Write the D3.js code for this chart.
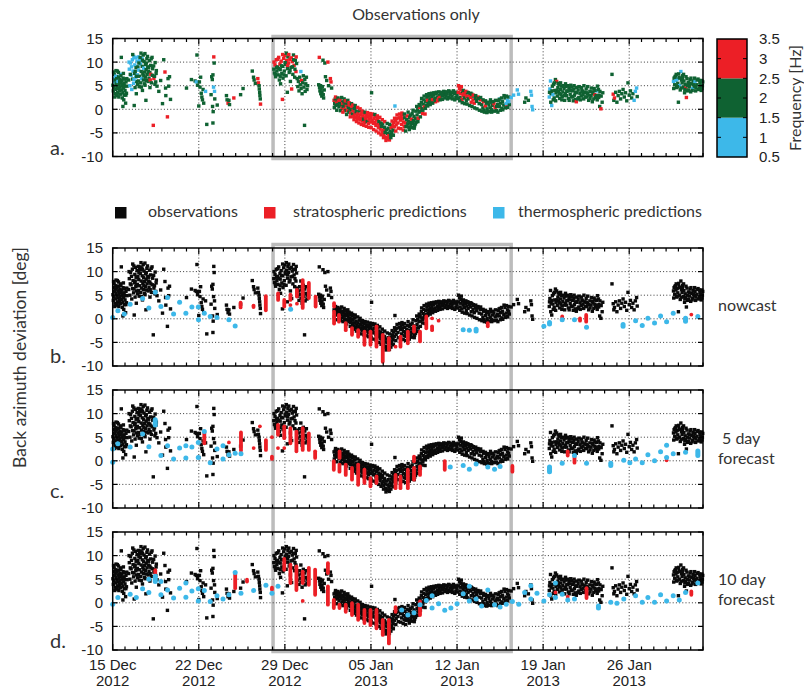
<!DOCTYPE html>
<html>
<head>
<meta charset="utf-8">
<script src="https://cdn.jsdelivr.net/npm/d3@7"></script>
<style>
  body { margin: 0; background: #fff; }
  svg { display: block; }
  .num { font-family: "Liberation Sans", Arial, sans-serif; font-size: 15px; fill: #222; }
  .lab { font-family: Lato, "Open Sans", sans-serif; font-size: 16px; fill: #333; }
</style>
</head>
<body>
<svg id="chart" width="804" height="689"></svg>
<script>
// ---- axes ---------------------------------------------------------------
const dateRange = ["2012-12-15", "2013-02-01"];
const dateTicks = ["2012-12-15", "2012-12-22", "2012-12-29", "2013-01-05", "2013-01-12", "2013-01-19", "2013-01-26"];
const degTicks = [-10, -5, 0, 5, 10, 15];
const gridDeg = [-5, 0, 5, 10];
const freqTicks = [0.5, 1, 1.5, 2, 2.5, 3, 3.5];
const freqBreaks = [1.5, 2.5];
const freqColors = ["#3db8e9", "#0f6232", "#ec1f26"];
const highlightDays = [13.04, 32.4];           // days after 15 Dec 2012

// ---- observations: [day after 15 Dec, back-azimuth deviation (deg), frequency (Hz)]
const observations = [
  [0.02,5.1,2],[0.05,3.9,2],[0.08,6.6,1],[0.1,4.6,2],[0.12,7.4,2],[0.15,5.8,1],[0.18,3.3,2],[0.2,6.2,2],[0.22,4.2,2],[0.25,7.0,1],
  [0.28,5.4,2],[0.3,2.9,2],[0.33,6.5,2],[0.35,4.8,2],[0.38,8.1,2],[0.4,3.6,2],[0.43,5.9,1],[0.45,4.4,2],[0.48,6.9,2],[0.5,2.6,2],
  [0.52,5.2,2],[0.55,3.9,2],[0.58,6.3,2],[0.6,4.7,2],[0.62,7.4,1],[0.65,3.2,2],[0.68,5.6,2],[0.7,11.0,2],[0.72,4.1,2],[0.75,6.1,2],
  [0.78,2.4,2],[0.8,5.0,2],[0.83,0.6,2],[0.83,3.5,2],[0.85,6.6,2],[0.88,4.5,2],[0.9,2.0,2],[0.93,5.5,2],[0.95,3.0,2],[0.98,6.4,2],
  [1.0,4.0,2],[1.05,1.3,2],[1.08,5.8,2],[1.12,3.4,2],[1.15,6.5,2],
  [0.07,7.9,2],[0.17,2.6,2],[0.27,8.2,2],[0.37,3.0,2],[0.47,7.8,2],[0.57,5.8,2],[0.67,7.1,2],[0.77,5.3,2],[0.87,7.6,2],[0.97,4.9,2],[1.07,3.0,2],[1.17,4.9,2],
  [1.3,6.2,2],[1.35,8.5,1],[1.4,5.0,1],[1.45,9.8,1],[1.5,7.2,1],[1.55,4.2,1],[1.6,10.5,1],[1.62,6.4,2],[1.65,8.1,1],[1.7,5.5,1],
  [1.72,11.2,1],[1.75,0.8,2],[1.78,7.6,2],[1.8,9.4,1],[1.82,4.6,2],[1.85,10.9,1],[1.88,6.8,1],[1.9,8.8,2],[1.92,3.3,2],[1.95,5.9,2],
  [1.98,10.2,1],[2.0,7.3,1],[2.05,9.0,2],[2.08,11.1,1],[2.1,6.0,2],[2.12,8.3,1],[2.15,4.8,2],[2.18,10.4,1],[2.2,7.0,2],[2.25,9.6,1],
  [2.28,5.6,2],[2.3,11.9,2],[2.32,8.0,2],[2.35,6.5,1],[2.38,10.8,1],[2.4,9.1,2],[2.42,4.0,2],[2.45,7.5,2],[2.48,11.5,2],[2.5,6.2,2],
  [2.52,8.7,1],[2.55,10.1,2],[2.58,5.4,2],[2.6,7.9,2],[2.62,11.8,2],[2.65,6.8,2],[2.68,9.5,2],[2.7,1.9,2],[2.72,8.4,2],[2.75,6.1,2],
  [2.78,10.7,2],[2.8,7.4,2],[2.85,9.0,2],[2.88,5.9,2],[2.9,8.0,2],[2.95,6.6,2],[3.0,10.3,2],[3.02,7.8,2],[3.05,6.2,3],[3.08,9.3,2],
  [3.1,7.4,3],[3.15,5.6,2],[3.2,11.0,2],[3.25,8.6,2],[3.3,-3.4,3],[3.35,6.5,3],[3.4,7.0,2],[3.45,9.9,2],[3.5,5.8,2],[3.55,8.2,2],[3.6,4.9,2],
  [1.33,10.0,1],[1.43,7.4,2],[1.53,9.0,1],[1.63,11.6,2],[1.73,6.3,1],[1.83,8.0,2],[1.93,7.0,2],[2.03,5.3,2],[2.13,9.8,2],[2.23,11.0,2],
  [2.33,4.7,2],[2.43,10.4,2],[2.53,7.1,2],[2.63,5.1,2],[2.73,9.8,2],[2.83,11.2,2],[2.93,8.8,2],[3.03,4.6,2],[3.13,10.7,2],[3.23,7.2,2],
  [3.33,9.2,2],[3.43,5.3,2],[3.53,7.6,2],
  [3.75,3.8,2],[3.9,6.1,2],[4.05,1.2,2],[4.15,10.5,2],[4.25,7.9,3],[4.3,4.5,2],[4.32,2.9,2],[4.45,-1.6,3],[4.5,6.5,2],[4.55,4.9,2],[4.62,6.9,2],[4.7,2.1,2],
  [6.0,4.5,2],[6.4,6.3,2],[6.7,6.0,2],[6.8,5.8,1],[6.85,11.5,2],[6.9,5.1,2],
  [7.0,0.7,2],[7.05,5.8,2],[7.1,4.7,2],[7.15,6.8,2],[7.2,3.4,2],[7.25,2.6,2],[7.3,2.0,2],[7.35,4.2,2],[7.4,1.3,2],[7.55,3.8,1],[7.65,-3.2,2],
  [8.0,3.1,2],[8.05,6.9,2],[8.1,6.3,2],[8.12,0.6,2],[8.15,7.3,2],[8.17,-0.5,2],[8.2,4.7,1],[8.22,11.1,3],[8.25,9.8,2],[8.28,3.8,1],[8.3,2.2,2],[8.15,-2.9,2],[8.5,0.9,2],
  [9.25,2.9,2],[9.3,2.0,2],[9.38,1.3,3],[9.45,1.9,2],[9.5,1.0,2],[9.85,2.4,3],[10.4,3.1,2],[10.6,4.4,2],
  [11.35,8.1,2],[11.45,6.8,2],[11.5,6.2,2],[11.6,5.5,2],[11.8,6.5,3],[11.85,5.6,3],[11.9,5.0,2],[11.92,4.3,2],[11.95,3.6,2],[11.97,2.9,2],[12.0,2.2,2],[12.02,1.1,3],
  [13.1,8.5,2],[13.15,7.7,2],[13.2,9.4,3],[13.25,6.9,2],[13.3,10.5,3],[13.35,8.1,2],[13.4,9.0,2],[13.45,7.3,2],[13.5,11.0,3],[13.55,6.2,2],
  [13.6,9.6,3],[13.62,8.4,2],[13.65,5.4,2],[13.7,10.2,3],[13.75,7.6,2],[13.8,2.1,3],[13.82,9.1,2],[13.85,6.6,2],[13.9,10.8,3],[13.95,8.1,2],
  [14.0,11.4,3],[14.05,9.5,2],[14.1,7.1,2],[14.15,10.3,3],[14.2,3.6,2],[14.22,8.6,2],[14.25,11.1,2],[14.3,9.8,3],[14.35,7.8,2],[14.4,10.6,3],
  [14.45,5.9,2],[14.5,8.9,2],[14.55,4.3,3],[14.6,10.1,3],[14.65,7.4,2],[14.7,11.5,2],[14.75,9.3,3],[14.8,6.8,2],[14.85,10.4,2],[14.9,8.0,3],[14.95,9.7,2],
  [13.12,10.0,3],[13.22,7.4,2],[13.32,8.8,2],[13.42,10.6,3],[13.52,8.6,2],[13.62,7.0,2],[13.72,9.2,2],[13.82,11.6,3],[13.92,7.3,2],[14.02,9.9,2],
  [14.12,11.9,2],[14.22,9.3,3],[14.32,11.6,3],[14.42,8.2,2],[14.52,10.9,3],[14.62,9.0,2],[14.72,10.5,2],[14.82,8.5,2],[14.92,11.1,3],
  [15.0,6.5,2],[15.05,4.8,2],[15.1,5.9,2],[15.15,3.9,2],[15.2,6.8,2],[15.25,5.2,2],[15.3,8.0,1],[15.32,4.4,2],[15.35,6.1,3],[15.4,3.3,2],
  [15.45,5.6,2],[15.5,7.1,2],[15.55,4.7,2],[15.6,-3.4,2],[15.62,6.3,2],[15.65,3.8,2],[15.7,5.4,2],[15.75,6.8,2],[15.8,4.2,2],[15.85,5.0,2],
  [16.75,5.2,2],[16.8,11.0,3],[16.82,4.6,2],[16.85,3.9,2],[16.9,5.0,2],[16.92,3.3,2],[16.95,4.4,2],[17.0,2.8,2],[17.02,3.7,2],[17.05,4.8,2],
  [17.1,10.4,2],[17.12,3.1,2],[17.15,2.4,2],[17.2,4.1,2],[17.25,9.8,2],[17.3,6.9,2],[17.4,6.1,2],[17.5,10.0,3],[17.55,5.0,2],[17.7,6.5,3],[17.75,5.8,3],[17.8,4.5,2],
  [18.0,1.9,3],[18.05,1.2,2],[18.1,2.2,2],[18.15,0.8,2],[18.2,1.6,3],[18.25,2.0,2],[18.3,1.0,2],[18.35,1.8,3],[18.4,0.5,2],[18.45,1.4,2],
  [18.5,2.1,3],[18.55,0.9,2],[18.6,1.5,2],[18.65,0.2,3],[18.7,1.2,3],[18.75,0.6,2],[18.8,1.6,2],[18.85,0.0,3],[18.9,1.0,2],[18.95,-0.3,2],
  [19.0,0.7,3],[19.05,1.3,2],[19.1,-0.2,3],[19.15,0.4,2],[19.2,-0.6,2],[19.25,0.9,3],[19.3,0.1,2],[19.35,-0.8,3],[19.4,-0.1,2],[19.45,0.6,3],
  [19.5,-1.0,2],[19.55,-0.3,3],[19.6,-1.5,3],[19.65,0.2,2],[19.7,-0.9,3],[19.75,-1.8,3],[19.8,-0.5,2],[19.85,-1.3,3],[19.9,-2.0,3],[19.95,-0.9,3],
  [20.0,-1.6,3],[20.05,-0.3,2],[20.1,-2.2,3],[20.15,-1.2,3],[20.2,-1.9,3],[20.25,-0.8,3],[20.3,-2.5,3],[20.35,-1.5,3],[20.4,-2.1,2],[20.45,-1.0,3],
  [20.5,-2.8,3],[20.55,-1.8,3],[20.6,-2.3,3],[20.65,-1.3,3],[20.7,-2.6,2],[20.75,-1.6,3],[20.8,-3.0,3],[20.85,-2.1,3],[20.9,-1.4,3],[20.95,-2.7,3],
  [18.02,0.4,2],[18.12,2.6,3],[18.22,-0.2,2],[18.32,2.4,2],[18.42,1.9,3],[18.52,-0.3,2],[18.62,2.5,2],[18.72,-0.6,3],[18.82,2.2,2],[18.92,1.8,3],
  [19.02,-1.1,2],[19.12,1.9,2],[19.22,1.4,3],[19.32,-1.6,3],[19.42,1.2,2],[19.52,0.9,3],[19.62,-2.2,3],[19.72,0.8,2],[19.82,-2.6,3],[19.92,0.4,3],
  [20.02,-2.9,3],[20.12,0.1,3],[20.22,-3.2,3],[20.32,-0.4,3],[20.42,-3.4,3],[20.52,-0.6,2],[20.62,-3.6,3],[20.72,-0.7,3],[20.82,-3.8,3],[20.92,-0.9,3],
  [21.0,-1.8,3],[21.05,3.5,2],[21.1,-2.4,3],[21.15,-1.2,3],[21.2,-3.0,3],[21.25,-2.0,3],[21.3,-2.8,3],[21.35,-1.5,3],[21.4,-3.4,3],[21.45,-2.3,3],
  [21.5,-3.1,3],[21.55,-1.9,3],[21.6,-3.8,3],[21.65,-2.6,2],[21.7,-3.3,3],[21.75,-4.2,3],[21.8,-2.9,2],[21.85,-3.6,2],[21.9,-4.8,3],[21.95,-3.1,2],
  [22.0,-4.4,3],[22.05,-5.3,3],[22.1,-3.8,2],[22.15,-4.9,2],[22.2,-5.9,3],[22.25,-4.3,2],[22.3,-6.3,3],[22.35,-5.1,2],[22.4,-4.0,2],[22.45,-5.6,3],
  [22.5,-6.5,3],[22.55,-4.6,2],[22.6,-5.3,2],[22.65,-3.9,3],[22.7,-4.9,2],[22.75,-3.4,3],[22.8,-4.4,2],[22.85,-2.8,3],[22.9,-3.7,3],[22.95,0.7,1],
  [23.0,-2.5,3],[23.05,-3.3,3],[23.1,-2.0,3],[23.2,-2.9,3],[23.3,-1.8,3],
  [21.02,-3.9,3],[21.12,-1.0,3],[21.22,-4.3,3],[21.32,-1.1,2],[21.42,-4.6,3],[21.52,-1.4,3],[21.62,-5.0,3],[21.72,-1.7,3],[21.82,-5.4,3],[21.92,-2.2,3],
  [22.02,-6.0,3],[22.12,-2.6,3],[22.22,-6.6,3],[22.32,-3.0,2],[22.42,-6.2,3],[22.52,-3.2,2],[22.62,-6.0,2],[22.72,-2.5,3],[22.82,-5.5,2],[22.92,-1.9,3],
  [23.02,-4.6,3],[23.12,-1.2,3],[23.22,-4.0,3],[23.32,-1.0,3],
  [23.4,-2.3,3],[23.45,-1.5,3],[23.5,-3.2,3],[23.55,-2.0,3],[23.6,-1.2,3],[23.65,-2.7,3],[23.7,-3.6,3],[23.75,-1.8,2],[23.8,-2.9,3],[23.85,-3.7,2],
  [23.9,-2.2,2],[23.95,-1.4,3],[24.0,-3.1,2],[24.05,-2.5,2],[24.1,-3.8,2],[24.15,-1.7,2],[24.2,-2.8,2],[24.25,-3.4,2],[24.3,-2.1,3],[24.35,-0.9,2],
  [24.4,-3.0,2],[24.45,-2.4,2],[24.5,-1.5,2],[24.55,-3.5,2],[24.6,-2.0,2],[24.65,-0.4,2],[24.7,-2.7,2],[24.75,-1.2,2],[24.8,-0.1,2],[24.85,-1.9,3],[24.9,-0.6,2],[24.95,0.4,3],
  [23.42,-4.1,3],[23.52,-0.8,3],[23.62,-4.4,3],[23.72,-1.0,2],[23.82,-4.6,2],[23.92,-3.6,2],[24.02,-0.6,2],[24.12,-4.3,2],[24.22,-1.2,2],[24.32,-3.9,2],
  [24.42,-0.2,2],[24.52,-4.0,2],[24.62,-3.1,2],[24.72,0.6,2],[24.82,-2.6,2],[24.92,1.0,2],
  [25.0,0.8,2],[25.05,-0.5,2],[25.1,1.5,2],[25.15,0.2,2],[25.2,-0.9,3],[25.25,1.1,2],[25.3,2.0,2],[25.35,0.5,3],[25.4,-1.0,3],[25.45,1.7,2],
  [25.5,0.9,2],[25.55,2.5,2],[25.6,1.9,3],[25.65,1.2,2],[25.7,2.8,2],[25.75,1.5,2],[25.8,2.2,2],[25.85,3.1,2],[25.9,1.8,2],[25.95,2.6,2],
  [26.0,2.0,3],[26.1,3.0,2],[26.2,2.3,2],[26.25,1.6,3],[26.3,3.3,2],[26.4,2.6,2],[26.5,2.3,3],[26.55,3.0,2],[26.6,2.5,3],[26.7,3.4,2],
  [26.8,2.8,2],[26.9,3.1,2],[27.0,3.6,2],[27.1,2.9,2],[27.2,3.3,2],[27.3,2.6,2],[27.35,3.8,2],[27.45,3.1,2],[27.55,3.5,2],[27.6,2.8,2],[27.7,3.9,2],[27.8,3.3,2],[27.9,2.5,2],
  [25.02,-1.6,2],[25.12,2.3,2],[25.22,-0.2,2],[25.32,2.8,2],[25.42,0.2,2],[25.52,3.1,2],[25.62,0.7,2],[25.72,3.3,2],[25.82,1.0,2],[25.92,3.4,2],
  [26.02,1.3,2],[26.12,3.5,2],[26.22,1.9,2],[26.32,3.6,2],[26.42,1.8,3],[26.52,3.7,2],[26.62,2.0,2],[26.72,3.6,2],[26.82,2.1,2],[26.92,3.8,2],
  [27.02,2.4,2],[27.12,3.7,2],[27.22,2.2,2],[27.32,3.9,2],[27.42,2.4,2],[27.52,3.6,2],[27.62,2.2,2],[27.72,3.8,2],[27.82,2.0,2],[27.92,3.6,2],
  [28.0,3.0,2],[28.1,3.6,3],[28.2,4.4,3],[28.25,2.5,2],[28.3,3.3,3],[28.35,4.8,3],[28.4,2.1,3],[28.45,3.8,2],[28.5,2.9,3],[28.55,3.5,3],
  [28.6,2.4,2],[28.7,3.2,3],[28.75,1.8,2],[28.8,2.7,3],[28.85,3.6,2],[28.9,2.2,2],[29.0,3.0,3],[29.1,2.5,3],[29.15,1.5,3],[29.2,3.2,2],
  [29.3,2.0,3],[29.35,2.8,2],[29.4,1.3,3],[29.5,2.3,2],[29.6,1.7,2],[29.7,2.6,3],[29.8,1.2,2],[29.9,2.0,3],
  [28.02,2.3,2],[28.12,5.0,3],[28.22,1.8,2],[28.32,4.1,3],[28.42,1.4,2],[28.52,4.0,2],[28.62,1.2,2],[28.72,3.8,3],[28.82,1.1,2],[28.92,3.5,2],
  [29.02,0.8,2],[29.12,3.4,2],[29.22,0.6,2],[29.32,3.0,3],[29.42,0.3,2],[29.52,2.9,2],[29.62,0.1,2],[29.72,2.3,2],[29.82,-0.2,2],[29.92,2.5,2],
  [30.0,1.0,2],[30.1,0.3,2],[30.15,1.6,3],[30.2,-0.2,2],[30.3,0.7,3],[30.4,1.3,2],[30.45,0.1,2],[30.5,-0.5,2],[30.6,0.9,2],[30.7,0.3,2],
  [30.75,1.5,2],[30.8,-0.1,2],[30.9,0.8,2],[31.0,1.2,3],[31.1,0.4,3],[31.2,-0.3,2],[31.3,1.0,2],[31.35,1.8,2],[31.45,0.6,2],[31.5,2.2,1],
  [31.55,1.3,2],[31.65,0.2,2],[31.7,1.6,2],[31.8,0.9,2],[31.9,2.4,2],[32.0,1.2,1],[32.05,0.5,3],[32.1,1.9,1],[32.2,2.6,2],[32.25,1.0,2],
  [30.02,-0.4,2],[30.12,2.0,2],[30.22,-0.6,2],[30.32,1.8,2],[30.42,-0.7,2],[30.52,1.5,2],[30.62,-0.5,2],[30.72,2.0,2],[30.82,-0.6,2],[30.92,1.6,2],
  [31.02,-0.4,2],[31.12,1.9,2],[31.22,0.6,2],[31.32,-0.6,2],[31.42,2.1,2],[31.52,-0.2,2],[31.62,2.4,2],[31.72,-0.1,2],[31.82,2.9,2],[31.92,0.3,2],
  [32.02,2.8,2],[32.12,0.4,2],[32.2,1.6,1],
  [32.4,2.5,1],[32.6,3.0,1],[32.9,4.1,1],[33.0,3.2,1],[33.5,1.5,2],[33.6,2.4,2],[33.8,1.9,2],[34.0,3.8,1],[34.05,3.0,1],[34.1,0.6,1],[34.15,-0.1,1],
  [35.5,2.6,1],[35.55,4.3,1],[35.6,6.0,1],[35.65,3.3,2],[35.7,0.8,1],[35.75,4.9,2],[35.8,3.1,1],[35.85,5.3,2],[35.9,2.4,2],[35.95,4.0,2],
  [36.0,6.3,2],[36.05,3.5,2],[36.1,5.9,3],[36.15,2.8,2],[36.2,4.6,2],[36.25,3.8,2],[36.3,5.2,2],[36.35,2.3,2],[36.4,4.2,2],[36.45,3.1,2],
  [36.5,4.9,2],[36.55,2.7,2],[36.6,3.7,2],[36.7,4.4,2],[36.75,1.9,2],[36.8,3.3,2],[36.85,4.8,2],[36.9,2.9,2],[37.0,3.9,2],[37.05,2.3,2],
  [37.1,4.5,2],[37.2,3.2,2],[37.25,5.1,2],[37.3,2.6,2],[37.4,3.9,2],[37.45,1.8,2],[37.5,4.3,2],[37.55,3.0,2],[37.6,2.1,2],[37.7,1.6,3],
  [37.75,3.5,2],[37.85,4.1,2],[37.9,2.5,2],[38.0,3.4,2],[38.1,2.8,2],[38.15,4.0,2],[38.25,3.1,2],[38.3,2.2,2],[38.4,3.6,2],[38.5,4.3,2],
  [38.55,2.6,2],[38.6,3.3,2],[38.7,1.9,2],[38.8,3.8,2],[38.9,2.9,2],[39.0,1.6,2],[39.05,3.4,2],[39.15,4.4,2],[39.2,3.1,3],[39.25,2.5,2],
  [39.35,3.9,1],[39.4,2.0,2],[39.5,4.2,2],[39.55,3.0,2],[39.6,0.6,2],[39.7,0.1,3],[39.8,1.5,2],[39.85,3.5,2],
  [35.52,3.6,2],[35.62,1.5,2],[35.72,3.9,2],[35.82,2.0,2],[35.92,5.6,2],[36.02,1.8,2],[36.12,4.0,2],[36.22,5.5,2],[36.32,3.4,2],[36.42,5.6,2],
  [36.52,2.0,2],[36.62,5.0,2],[36.72,2.9,2],[36.82,5.4,2],[36.92,3.8,2],[37.02,5.0,2],[37.12,1.9,2],[37.22,4.0,2],[37.32,4.7,2],[37.42,2.7,2],
  [37.52,5.0,2],[37.62,3.6,2],[37.72,4.6,2],[37.82,2.2,2],[37.92,4.8,2],[38.02,2.0,2],[38.12,4.6,2],[38.22,3.8,2],[38.32,5.0,2],[38.42,2.6,2],
  [38.52,3.5,2],[38.62,4.8,2],[38.72,3.0,2],[38.82,2.3,2],[38.92,4.5,2],[39.02,3.7,2],[39.12,2.2,2],[39.22,4.0,2],[39.32,2.9,2],[39.42,4.9,2],
  [39.52,2.5,2],[39.62,3.8,2],[39.72,2.8,2],
  [40.6,7.4,2],[40.7,3.2,3],[40.75,1.9,2],[40.8,2.4,3],[40.9,3.6,2],[41.0,1.5,2],[41.1,2.9,2],[41.2,3.8,2],[41.3,2.2,2],[41.4,3.3,2],
  [41.5,4.2,2],[41.6,2.6,2],[41.7,3.5,2],[41.8,1.8,2],[41.9,5.6,2],[42.0,3.0,2],[42.1,3.9,2],[42.2,2.4,2],[42.3,3.3,2],[42.4,1.9,1],[42.5,3.8,1],[42.6,4.5,1],[42.65,2.7,2],
  [45.6,5.9,1],[45.65,6.6,2],[45.7,5.2,2],[45.75,7.0,2],[45.8,6.1,1],[45.85,4.6,2],[45.9,6.4,1],[45.95,5.5,2],[46.0,1.5,2],[46.05,6.8,2],
  [46.1,5.0,1],[46.15,4.1,2],[46.2,8.0,1],[46.25,6.2,2],[46.3,5.6,2],[46.35,7.1,2],[46.4,4.7,2],[46.45,6.0,2],[46.5,3.5,2],[46.55,5.3,2],
  [46.6,4.5,3],[46.65,2.5,3],[46.7,6.5,2],[46.75,3.9,2],[46.8,5.7,2],[46.9,4.8,2],[46.95,6.3,2],[47.0,3.7,2],[47.1,5.4,2],[47.15,4.4,1],
  [47.2,6.0,2],[47.3,4.9,2],[47.35,5.8,1],[47.4,3.9,2],[47.5,5.2,2],[47.6,6.4,2],[47.7,4.5,2],[47.75,5.6,2],[47.85,4.0,2],[47.9,6.1,2],[47.95,5.0,2],
  [45.62,4.4,2],[45.72,6.8,2],[45.82,7.4,2],[45.92,4.8,2],[46.02,7.5,2],[46.12,6.6,2],[46.22,4.5,2],[46.32,6.5,2],[46.42,7.4,2],[46.52,4.2,2],
  [46.62,6.9,2],[46.72,5.0,2],[46.82,4.1,2],[46.92,5.5,2],[47.02,6.6,2],[47.12,4.0,2],[47.22,5.2,2],[47.32,6.6,2],[47.42,4.6,2],[47.52,6.2,2],
  [47.62,4.2,2],[47.72,6.1,2],[47.82,5.1,2],[47.92,4.4,2],[47.98,5.8,2]
];

// ---- predictions: [day, low, high] (deg); a single value gives [day, value]
const stratNowcast = [
  [10.4,2.4,3.4],[11.45,2.5,2.8],[12.45,1.8,4.8],[13.45,4.0,5.4],[13.95,2.6,4.0],[14.45,4.0,5.1],[14.45,2.9],[14.98,4.7,6.1],[14.98,3.2],
  [15.45,2.3,8.2],[15.95,4.4,7.6],[16.5,2.6,4.7],[18.0,2.6,3.3],[18.0,-1.0,1.5],[18.4,-0.6,0.8],[18.95,-2.4,-0.9],[19.46,-3.4,-2.0],
  [19.96,-3.8,-2.4],[20.47,-5.5,-2.7],[20.96,-5.5,-2.7],[21.45,-5.9,-1.6],[21.96,-9.1,-3.4],[22.46,-6.6,-4.1],[23.0,-5.9],
  [23.4,-5.9,-3.8],[24.0,-5.2,-2.7],[24.5,-2.7,-1.6],[24.99,-4.8,-2.7],[25.5,-2.0,0.5],[25.97,0.1],[25.97,-2.4,-1.6],[26.5,-0.4],
  [30.5,-1.6,-0.9],[36.55,-0.2,0.5],[38.0,-0.4,0.1],[38.5,-0.6,0.8],[47.05,0.9]
];
const thermoNowcast = [
  [0.0,0.3],[0.42,1.7],[0.94,1.0],[1.42,3.1],[2.43,4.3],[2.94,2.3],[3.46,5.65],[3.92,2.6],[4.46,4.5],[4.95,1.0],[5.44,3.5],[5.95,1.2],
  [6.44,2.5],[6.96,2.5],[6.98,-0.2],[7.45,1.2],[7.93,0.5],[8.48,0.3],[9.45,-0.2],[9.96,-1.5],[14.47,2.0],
  [28.5,-2.3],[29.0,-2.4],[29.55,-2.6,-2.2],[35.06,-1.6],[35.52,-1.1,-0.8],[36.55,-0.2],[37.55,-0.2],[38.53,-1.8],[41.5,-1.6,-1.2],
  [42.52,-0.4],[43.06,-1.4],[43.52,0.1],[44.06,-0.9],[44.55,0.6],[45.04,-0.6],[45.58,1.2],[46.58,-0.5,0.1],[47.58,0.5]
];
const strat5day = [
  [7.45,3.7,6.0],[9.45,3.9],[10.43,2.2,6.0],[11.46,2.7],[11.97,7.3],[12.46,2.3,4.4],[12.95,0.4,0.9],[12.95,5.0],[13.44,2.7],
  [13.44,5.5,7.6],[13.95,4.8,7.3],[13.95,2.7],[14.45,3.7,6.9],[14.94,2.0,6.2],[15.45,2.3,6.9],[15.95,2.3,5.8],[16.46,0.6,2.0],
  [17.98,-1.9,-0.1],[18.45,0.6,2.0],[18.44,-2.3,-0.8],[18.95,-3.0,-0.8],[19.46,-4.0,-1.5],[19.96,-5.1,-0.8],[20.47,-4.7,-1.9],
  [20.96,-5.4,-3.7],[21.45,-4.7,-3.3],[23.0,-5.8,-3.0],[23.4,-5.8,-3.3],[24.0,-5.8,-1.9],[24.5,-0.1,0.9],[24.5,-4.0,-1.5],
  [24.99,-3.0,-1.2],[27.0,-1.9,-0.1],[32.5,-2.3,-1.1],[37.0,1.1,2.0],[37.55,-0.4,0.8],[45.04,0.1]
];
const thermo5day = [
  [0.0,2.5],[0.0,-0.3],[0.42,3.6],[1.42,2.9],[2.43,5.7],[2.94,3.0],[3.46,7.6,8.7],[3.92,1.1],[4.46,3.2],[4.95,0.4],[5.44,2.7],
  [5.95,3.2],[5.95,0.6],[6.44,2.9],[6.96,3.9],[6.96,0.7],[7.45,6.2],[7.93,-0.4],[8.48,2.5],[8.97,3.2],[8.97,0.4],[9.45,1.3],
  [9.96,1.6],[10.43,1.5],
  [27.45,-1.3],[28.5,-1.0],[29.0,-1.8],[29.55,-0.7],[30.5,-1.3],[31.05,-1.8],[31.5,-1.2],[35.52,-2.3,-1.3],[36.55,-0.5],[37.55,1.1],
  [38.53,-0.5],[40.5,-1.0,-0.5],[41.56,0.1],[42.05,-0.4],[42.52,0.4],[43.06,-0.4],[43.52,1.3],[44.06,0.0],[44.55,1.9],[45.04,3.3],
  [45.04,0.7],[45.58,1.5],[46.58,1.8],[47.58,1.1,2.1]
];
const strat10day = [
  [3.46,6.3,6.9],[9.96,3.1,6.0],[10.92,4.5,4.9],[12.95,2.8,3.2],[13.95,7.0,9.3],[14.45,4.2,8.1],[14.94,2.7,7.7],[15.45,4.2,6.6],
  [15.45,0.4],[15.95,3.8,7.4],[16.46,1.7,7.0],[17.5,6.3,8.4],[17.5,-0.4,3.5],[17.98,-1.1,0.6],[18.44,-1.1,-0.4],[18.95,-1.9,-0.4],
  [19.46,-2.6,-0.1],[19.96,-3.6,-0.4],[20.47,-4.3,-1.5],[20.96,-4.7,-1.5],[21.45,-5.4,-1.5],[21.96,-6.8,-3.6],[22.46,-8.6,-3.6],
  [23.0,-1.9,-0.9],[24.99,-2.6,0.3],[36.0,2.2],[37.0,1.3],[38.53,1.0,3.1],[47.05,1.7,2.4]
];
const thermo10day = [
  [0.0,-0.3],[0.42,1.1],[1.42,1.8],[1.92,1.1],[2.43,3.0],[2.94,5.0],[2.94,2.2],[3.46,4.5,5.6],[3.92,4.5],[3.92,1.7],[4.46,2.7],
  [4.95,1.0],[5.44,3.1],[5.95,4.2],[5.95,1.2],[6.44,2.5],[6.96,0.4],[6.96,3.0],[7.45,2.6],[7.93,0.3],[8.48,1.5],[8.97,0.8],
  [9.45,1.7],[9.96,6.4],[10.43,2.0],[11.46,2.6],[12.46,3.7],[12.95,2.0],[13.44,3.5],
  [23.5,-1.5],[24.0,-2.6],[24.5,-2.1],[24.99,-0.4],[25.5,0.5],[25.97,1.5],[25.97,-1.1],[26.5,-0.2],[27.0,-1.6],[27.5,-1.1],[28.0,-0.2],
  [28.5,1.9],[29.0,3.5],[29.0,0.4],[29.55,0.8],[30.0,-0.7],[30.5,2.7],[31.05,-0.4],[31.5,-0.9],[32.0,-0.3],[32.5,0.3],[33.02,-0.3],
  [33.5,2.2],[34.0,3.6],[34.0,0.8],[34.5,2.0],[35.06,0.4],[35.52,1.7],[36.0,4.2],[36.0,1.1],[36.55,1.8],[37.0,0.6],[37.55,0.8],
  [39.5,-1.1,-0.7],[40.5,0.1],[41.0,-0.1],[41.56,0.8],[42.52,1.5],[43.06,0.1],[43.52,1.1],[44.06,0.1],[44.55,1.7],[45.04,0.4],
  [45.58,1.5],[46.07,0.6],[46.58,2.2],[47.58,4.2]
];

// ---- legend entries
const legendItems = ["observations", "stratospheric predictions", "thermospheric predictions"];

// ---- drawing ------------------------------------------------------------
const RED = "#ec1f26", BLUE = "#3db8e9", BLACK = "#0a0a0a";
const svg = d3.select("#chart");
const parse = d3.utcParse("%Y-%m-%d");
const t0 = parse(dateRange[0]);
const asDate = d => new Date(t0.getTime() + d * 864e5);
const X0 = 112.7, X1 = 703, PH = 118;
const x = d3.scaleUtc().domain(dateRange.map(parse)).range([X0, X1]);
const freqColor = d3.scaleThreshold().domain(freqBreaks).range(freqColors);

const panels = [
  { top: 38.5, letter: "a.", letterY: 155, colored: true },
  { top: 248, letter: "b.", letterY: 363, note: ["nowcast"], noteX: [718], noteY: 311, strat: stratNowcast, thermo: thermoNowcast },
  { top: 390, letter: "c.", letterY: 498, note: ["5 day", "forecast"], noteX: [722, 718], noteY: 444, strat: strat5day, thermo: thermo5day },
  { top: 532, letter: "d.", letterY: 648, note: ["10 day", "forecast"], noteX: [718, 718], noteY: 585, strat: strat10day, thermo: thermo10day, xLabels: true }
];

// highlighted period, behind the data
const hx0 = x(asDate(highlightDays[0])), hx1 = x(asDate(highlightDays[1]));
const hl = svg.append("g").attr("fill", "none").attr("stroke", "#bcbcbc").attr("stroke-width", 3.5);
hl.append("rect").attr("x", hx0).attr("y", 36.5).attr("width", hx1 - hx0).attr("height", 122);
hl.append("rect").attr("x", hx0).attr("y", 244.5).attr("width", hx1 - hx0).attr("height", 407);

const days = d3.utcDay.range(t0, d3.utcDay.offset(parse(dateRange[1]), 1));
const majors = dateTicks.map(parse);

function pill(g, y, data, color, w) {
  g.selectAll(null).data(data).join("rect")
    .attr("x", d => x(asDate(d[0])) - w / 2)
    .attr("y", d => y(d.length > 2 ? d[2] : d[1]) - w / 2)
    .attr("width", w)
    .attr("height", d => (d.length > 2 ? y(d[1]) - y(d[2]) : 0) + w)
    .attr("rx", w / 2).attr("ry", w / 2)
    .attr("fill", color);
}

panels.forEach(p => {
  const y = d3.scaleLinear().domain([-10, 15]).range([p.top + PH, p.top]);
  const g = svg.append("g");

  // dotted grid
  const grid = g.append("g").attr("stroke", "#3a3a3a").attr("stroke-width", 1).attr("stroke-dasharray", "1,2.2");
  grid.selectAll(null).data(majors.slice(1)).join("line")
    .attr("x1", d => x(d)).attr("x2", d => x(d)).attr("y1", p.top).attr("y2", p.top + PH);
  grid.selectAll(null).data(gridDeg).join("line")
    .attr("x1", X0).attr("x2", X1).attr("y1", d => y(d)).attr("y2", d => y(d));

  // observations
  const s = 3.4;
  g.append("g").selectAll(null).data(observations).join("rect")
    .attr("x", d => x(asDate(d[0])) - s / 2)
    .attr("y", d => y(d[1]) - s / 2)
    .attr("width", s).attr("height", s)
    .attr("fill", d => p.colored ? freqColor(d[2]) : BLACK);

  if (p.strat) {
    pill(g.append("g"), y, p.strat, RED, 3.8);
    pill(g.append("g"), y, p.thermo, BLUE, 5);
  }

  // frame and ticks
  g.append("rect").attr("x", X0).attr("y", p.top).attr("width", X1 - X0).attr("height", PH)
    .attr("fill", "none").attr("stroke", "#000").attr("stroke-width", 1.5);
  const tk = g.append("g").attr("stroke", "#000").attr("stroke-width", 1.2);
  days.forEach(d => {
    const major = majors.some(m => m.getTime() === d.getTime());
    const len = major ? 6 : 3.5;
    const xx = x(d);
    tk.append("line").attr("x1", xx).attr("x2", xx).attr("y1", p.top).attr("y2", p.top + len);
    tk.append("line").attr("x1", xx).attr("x2", xx).attr("y1", p.top + PH).attr("y2", p.top + PH - len);
  });
  degTicks.forEach(v => {
    tk.append("line").attr("x1", X0).attr("x2", X0 + 5).attr("y1", y(v)).attr("y2", y(v));
    tk.append("line").attr("x1", X1).attr("x2", X1 - 5).attr("y1", y(v)).attr("y2", y(v));
  });
  g.append("g").selectAll(null).data(degTicks).join("text")
    .attr("class", "num").attr("x", 103).attr("y", d => y(d)).attr("dy", "0.36em")
    .attr("text-anchor", "end").text(d => d);

  g.append("text").attr("class", "lab").attr("x", 50).attr("y", p.letterY)
    .style("font-size", "20px").text(p.letter);

  if (p.note) {
    p.note.forEach((line, i) => g.append("text").attr("class", "lab")
      .attr("x", p.noteX[i]).attr("y", p.noteY + i * 20).text(line));
  }

  if (p.xLabels) {
    const fmt1 = d3.utcFormat("%d %b"), fmt2 = d3.utcFormat("%Y");
    const xl = g.append("g").selectAll(null).data(majors).join("text")
      .attr("class", "num").attr("text-anchor", "middle");
    xl.append("tspan").attr("x", d => x(d)).attr("y", 670).text(d => fmt1(d));
    xl.append("tspan").attr("x", d => x(d)).attr("y", 686).text(d => fmt2(d));
  }
});

// title
svg.append("text").attr("class", "lab").attr("x", 416).attr("y", 20)
  .attr("text-anchor", "middle").text("Observations only");

// y-axis title
svg.append("text").attr("class", "lab").style("font-size", "17.5px")
  .attr("transform", "translate(26,357.5) rotate(-90)").attr("text-anchor", "middle")
  .text("Back azimuth deviation [deg]");

// frequency colour bar
const cy = d3.scaleLinear().domain([0.5, 3.5]).range([157, 39]);
const bands = [0.5].concat(freqBreaks).concat([3.5]);
const cb = svg.append("g");
cb.selectAll(null).data(freqColors).join("rect")
  .attr("x", 717).attr("width", 30)
  .attr("y", (c, i) => cy(bands[i + 1])).attr("height", (c, i) => cy(bands[i]) - cy(bands[i + 1]))
  .attr("fill", c => c);
cb.append("rect").attr("x", 717).attr("y", 39).attr("width", 30).attr("height", 118)
  .attr("fill", "none").attr("stroke", "#000").attr("stroke-width", 1.5);
freqTicks.slice(1, -1).forEach(v => {
  cb.append("line").attr("x1", 717).attr("x2", 721).attr("y1", cy(v)).attr("y2", cy(v)).attr("stroke", "#000");
  cb.append("line").attr("x1", 747).attr("x2", 743).attr("y1", cy(v)).attr("y2", cy(v)).attr("stroke", "#000");
});
cb.selectAll(null).data(freqTicks).join("text").attr("class", "num")
  .attr("x", 759).attr("y", d => cy(d)).attr("dy", "0.36em").text(d => d);
svg.append("text").attr("class", "lab")
  .attr("transform", "translate(801,98) rotate(-90)").attr("text-anchor", "middle")
  .text("Frequency [Hz]");

// legend
const legendColors = [BLACK, RED, BLUE];
const legendX = [115, 264, 493], legendTextX = [148, 293, 518];
legendItems.forEach((name, i) => {
  svg.append("rect").attr("x", legendX[i]).attr("y", 207).attr("width", 11.5).attr("height", 11.5)
    .attr("fill", legendColors[i]);
  svg.append("text").attr("class", "lab").attr("x", legendTextX[i]).attr("y", 217).text(name);
});
</script>
</body>
</html>
